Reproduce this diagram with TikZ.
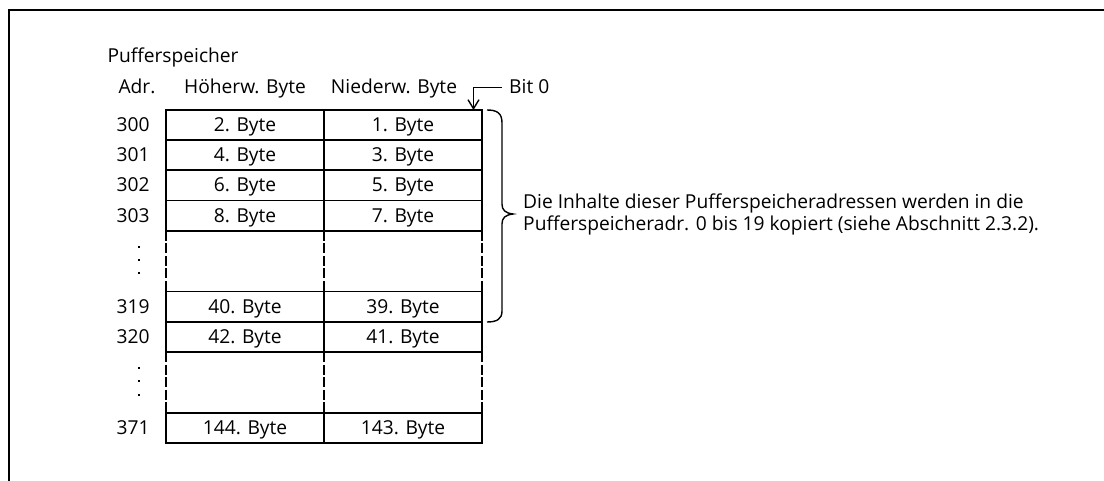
\documentclass[tikz,border=0pt]{standalone}
\usepackage{fontspec}
\setmainfont{Open Sans}
\usetikzlibrary{arrows.meta}
\begin{document}
\begin{tikzpicture}[x=1pt,y=-1pt,
  lbl/.style={inner sep=0pt, font=\fontsize{19.2}{21}\selectfont},
  cellline/.style={line width=1.9pt, line cap=rect},
  gapline/.style={line width=1.9pt, dash pattern=on 10pt off 2.5pt},
  thin/.style={line width=1.4pt},
  dot/.style={fill=black},
]
\useasboundingbox (0,0) rectangle (1104,481);

% outer frame (top and left edges only)
\draw[line width=2pt] (9,481) -- (9,10) -- (1104,10);

% headings
\node[lbl, anchor=base west] (title) at (107.3,62.7) {Pufferspeicher};
\node[lbl, anchor=base west] (hadr) at (118.3,93.3) {Adr.};
\node[lbl, anchor=base] (hhi) at (245,93.3) {Höherw. Byte};
\node[lbl, anchor=base] (hlo) at (394,93.3) {Niederw. Byte};
\node[lbl, anchor=base west] (bit0) at (509,93.3) {Bit 0};

% horizontal rules of the buffer table
\foreach \y in {110,140,170,200.5,231,291.5,322,352,413,443}
  \draw[cellline] (166,\y) -- (482,\y);

% vertical rules: solid blocks and dashed gaps
\foreach \x in {166,324,482} {
  \draw[cellline] (\x,110) -- (\x,231);
  \draw[gapline]  (\x,231) -- (\x,291.5);
  \draw[cellline] (\x,291.5) -- (\x,352);
  \draw[gapline]  (\x,352) -- (\x,413);
  \draw[cellline] (\x,413) -- (\x,443);
}

% addresses and byte contents
\foreach \i/\t/\b/\adr/\hi/\lo in {
  a/110/140/300/2/1, b/140/170/301/4/3, c/170/200.5/302/6/5,
  d/200.5/231/303/8/7, e/291.5/322/319/40/39, f/322/352/320/42/41,
  g/413/443/371/144/143} {
  \node[lbl, anchor=base west] (adr\i) at (116.5,{(\t+\b)/2+6.5}) {\adr};
  \node[lbl, anchor=base] (hi\i) at (245,{(\t+\b)/2+6.5}) {\hi. Byte};
  \node[lbl, anchor=base] (lo\i) at (403,{(\t+\b)/2+6.5}) {\lo. Byte};
}

% vertical ellipses for omitted addresses
\foreach \y in {247,260,273,368,381,395}
  \fill[dot] (138,{\y-1.2}) rectangle (140.4,{\y+1.2});

% Bit 0 marker
\coordinate (bittip) at (473.5,110);
\coordinate (bitstart) at (501.7,87.3);
\draw[thin, -{Straight Barb[length=9pt,width=11pt]}] (bitstart) -| (bittip);

% brace over addresses 300..319
\coordinate (btop) at (487,110);
\coordinate (bbot) at (487,322);
\coordinate (btip) at (513,214);
\draw[thin] (btop) .. controls (497,110) and (502,113) .. (502,123)
  -- (502,204) .. controls (502,210) and (505,213) .. (btip)
  .. controls (505,215) and (502,218) .. (502,224)
  -- (502,311) .. controls (502,319) and (497,322) .. (bbot);

% explanatory note
\node[lbl, anchor=base west] (note1) at (523,209)
  {Die Inhalte dieser Pufferspeicheradressen werden in die};
\node[lbl, anchor=base west] (note2) at (523,230.5)
  {Pufferspeicheradr. 0 bis 19 kopiert (siehe Abschnitt 2.3.2).};
\end{tikzpicture}
\end{document}
